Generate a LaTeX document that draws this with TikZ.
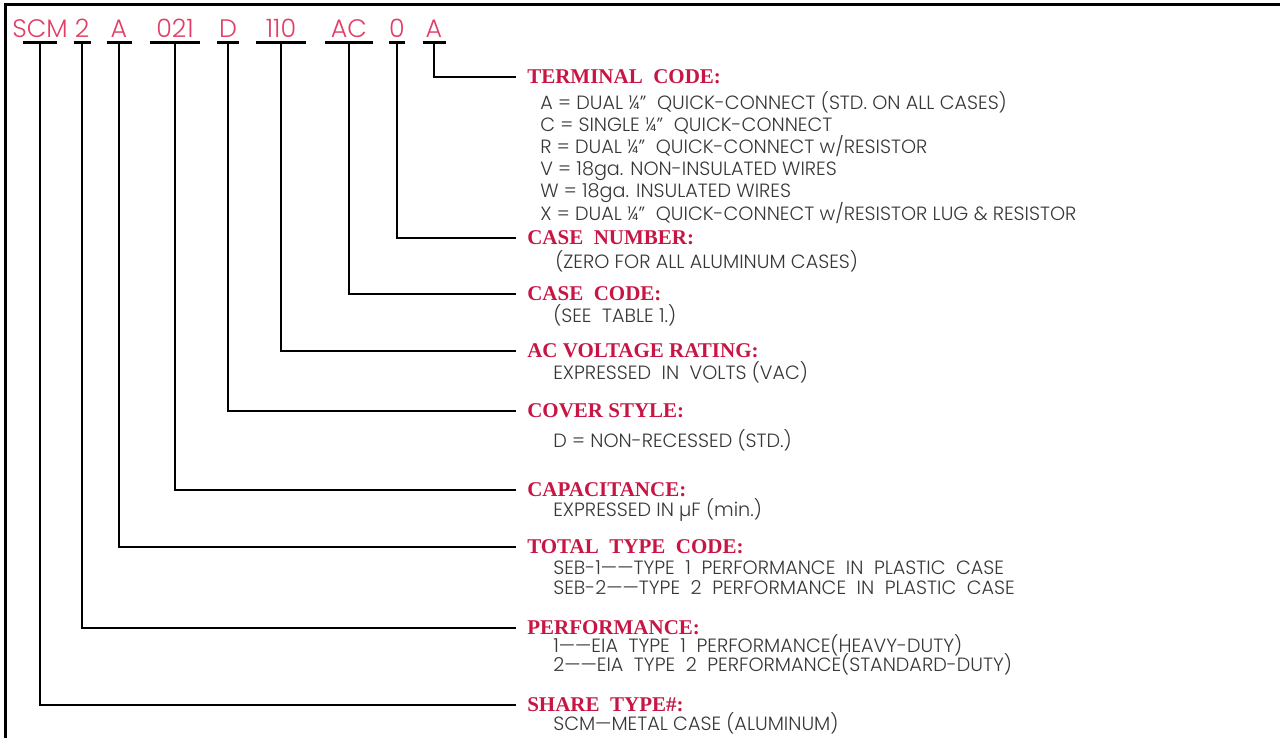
\documentclass[tikz,border=0pt]{standalone}
\usepackage{fontspec}
\setmainfont{Liberation Serif}
\newfontfamily\cadfont{Poppins Light}
\usetikzlibrary{calc}
\definecolor{codepink}{RGB}{226,62,102}
\definecolor{headred}{RGB}{200,22,68}
\definecolor{bodygray}{RGB}{55,55,55}
\newcommand\tightlines{\setlength{\lineskiplimit}{-8pt}}

\begin{document}
\begin{tikzpicture}[
    x=0.75pt, y=-0.75pt,
    code/.style={font=\cadfont\fontsize{19}{23}\selectfont, text=codepink, inner sep=0pt, anchor=base},
    head/.style={font=\bfseries\fontsize{15.75}{18}\selectfont, text=headred, anchor=west, inner xsep=8.25pt, inner ysep=0pt},
    body/.style={font=\cadfont\fontsize{14.4}{16.6}\selectfont\tightlines, text=bodygray, anchor=base west, align=left, inner sep=0pt},
    uline/.style={line width=2.25pt},
    lead/.style={line width=1.5pt}
]
\useasboundingbox (0,0) rectangle (1280,738);

% Frame
\draw[line width=2.25pt] (5,738) -- (5,5) -- (1280,5);

% Headings
\node[head] (term)     at (516,77)  {TERMINAL~ CODE:};
\node[head] (casenum)  at (516,238) {CASE~ NUMBER:};
\node[head] (casecode) at (516,294) {CASE~ CODE:};
\node[head] (acv)      at (516,351) {AC VOLTAGE RATING:};
\node[head] (cover)    at (516,411) {COVER STYLE:};
\node[head] (capac)    at (516,490) {CAPACITANCE:};
\node[head] (total)    at (516,547) {TOTAL~ TYPE~ CODE:};
\node[head] (perf)     at (516,628) {PERFORMANCE:};
\node[head] (share)    at (516,705) {SHARE~ TYPE\#:};

% Descriptions (multi-line nodes sit on their last baseline)
\node[body] (termtxt) at (540,220) {A = DUAL ¼”~ QUICK-CONNECT (STD. ON ALL CASES)\\
  C = SINGLE ¼”~ QUICK-CONNECT\\
  R = DUAL ¼”~ QUICK-CONNECT w/RESISTOR\\
  V = 18ga. NON-INSULATED WIRES\\
  W = 18ga. INSULATED WIRES\\
  X = DUAL ¼”~ QUICK-CONNECT w/RESISTOR LUG \& RESISTOR};
\node[body] (casenumtxt)  at (555,268) {(ZERO FOR ALL ALUMINUM CASES)};
\node[body] (casecodetxt) at (553,322) {(SEE~ TABLE 1.)};
\node[body] (acvtxt)      at (553,379) {EXPRESSED~ IN~ VOLTS (VAC)};
\node[body] (covertxt)    at (553,447) {D = NON-RECESSED (STD.)};
\node[body] (capactxt)    at (553,516) {EXPRESSED IN µF (min.)};
\node[body, font=\cadfont\fontsize{14.4}{15}\selectfont\tightlines] (totaltxt) at (553,594)
  {SEB-1——TYPE~ 1~ PERFORMANCE~ IN~ PLASTIC~ CASE\\
   SEB-2——TYPE~ 2~ PERFORMANCE~ IN~ PLASTIC~ CASE};
\node[body, font=\cadfont\fontsize{14.4}{14.25}\selectfont\tightlines] (perftxt) at (553,671)
  {1——EIA~ TYPE~ 1~ PERFORMANCE(HEAVY-DUTY)\\
   2——EIA~ TYPE~ 2~ PERFORMANCE(STANDARD-DUTY)};
\node[body] (sharetxt) at (553,730) {SCM—METAL CASE (ALUMINUM)};

% Part number, underlines and leaders
\foreach \n/\x/\w/\t/\h in {scm/40/17/SCM/share, two/82/8.5/2/perf,
    typ/119/12.5/A/total, cval/175/25/021/capac, cov/228/11/D/cover,
    volt/281/25/110/acv, ccode/349/24/AC/casecode, cnum/397/8/0/casenum,
    tcode/434/11.5/A/term} {
  \node[code] (\n) at (\x,37.5) {\t};
  \coordinate (\n-u) at (\x,43);
  \draw[uline] ($(\n-u)+(-\w,0)$) -- ($(\n-u)+(\w,0)$);
  \draw[lead] (\n-u) |- (\h.west);
}

\end{tikzpicture}
\end{document}
